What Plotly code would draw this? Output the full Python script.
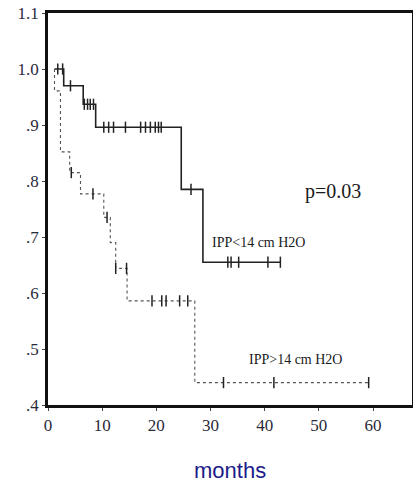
import plotly.graph_objects as go

# IPP < 14 cm H2O (solid)
low_times = [1.2, 2.9, 6.5, 8.8, 24.6, 28.6, 42.9]
low_surv = [1.0, 0.970, 0.937, 0.896, 0.785, 0.655, 0.655]
low_cens_t = [1.8, 2.7, 4.15, 6.7, 7.3, 7.8, 8.4, 10.3, 11.2, 12.1, 14.3, 17.1, 18.0,
              18.9, 19.8, 20.4, 20.9, 26.4, 33.2, 33.8, 35.2, 40.6, 42.9]
low_cens_s = [1.0, 1.0, 0.970, 0.937, 0.937, 0.937, 0.937, 0.896, 0.896, 0.896, 0.896,
              0.896, 0.896, 0.896, 0.896, 0.896, 0.896, 0.785, 0.655, 0.655, 0.655, 0.655, 0.655]

# IPP > 14 cm H2O (dotted)
high_times = [1.2, 1.2, 2.3, 4.0, 6.0, 10.3, 11.5, 12.5, 14.6, 27.1, 59.2]
high_surv = [1.0, 0.961, 0.852, 0.815, 0.777, 0.735, 0.690, 0.644, 0.586, 0.440, 0.440]
high_cens_t = [4.3, 8.3, 10.9, 12.5, 14.5, 19.2, 21.0, 21.8, 24.3, 25.8, 32.4, 41.7, 59.2]
high_cens_s = [0.815, 0.777, 0.735, 0.644, 0.644, 0.586, 0.586, 0.586, 0.586, 0.586,
               0.440, 0.440, 0.440]

x_ticks = [0, 10, 20, 30, 40, 50, 60]
y_ticks = [0.4, 0.5, 0.6, 0.7, 0.8, 0.9, 1.0, 1.1]
y_labels = [".4", ".5", ".6", ".7", ".8", ".9", "1.0", "1.1"]

fig = go.Figure()
fig.add_trace(go.Scatter(x=low_times, y=low_surv, mode="lines", line_shape="hv",
                         line=dict(color="#222222", width=1.6), showlegend=False))
fig.add_trace(go.Scatter(x=low_cens_t, y=low_cens_s, mode="markers",
                         marker=dict(symbol="line-ns-open", size=8, color="#222222",
                                     line=dict(color="#222222", width=1.5)),
                         showlegend=False))
fig.add_trace(go.Scatter(x=high_times, y=high_surv, mode="lines", line_shape="hv",
                         line=dict(color="#555555", width=1.1, dash="dot"), showlegend=False))
fig.add_trace(go.Scatter(x=high_cens_t, y=high_cens_s, mode="markers",
                         marker=dict(symbol="line-ns-open", size=8, color="#222222",
                                     line=dict(color="#222222", width=1.5)),
                         showlegend=False))

serif = "Liberation Serif"
fig.add_annotation(x=52.7, y=0.782, xref="x", yref="y", text="p=0.03", showarrow=False,
                   font=dict(family=serif, size=20, color="#1a1a1a"))
fig.add_annotation(x=38.9, y=0.691, xref="x", yref="y", text="IPP&lt;14 cm H2O", showarrow=False,
                   font=dict(family=serif, size=14, color="#1a1a1a"))
fig.add_annotation(x=45.7, y=0.482, xref="x", yref="y", text="IPP&gt;14 cm H2O", showarrow=False,
                   font=dict(family=serif, size=14, color="#1a1a1a"))
fig.add_annotation(x=0.5, y=-0.166, xref="paper", yref="paper", text="months", showarrow=False,
                   yanchor="middle", font=dict(family="Liberation Sans", size=22, color="#1c1c8a"))

fig.update_xaxes(range=[0, 67.2], tickvals=x_ticks, ticks="outside", ticklen=3, tickwidth=1,
                 showline=True, linewidth=2.6, linecolor="#111111", mirror=True,
                 showgrid=False, zeroline=False, automargin=False,
                 tickfont=dict(family=serif, size=17, color="#2a2a3a"))
fig.update_yaxes(range=[0.4, 1.1], tickvals=y_ticks, ticktext=y_labels, ticks="outside",
                 ticklen=3, tickwidth=1, showline=True, linewidth=2.6, linecolor="#111111",
                 mirror=True, showgrid=False, zeroline=False, automargin=False,
                 tickfont=dict(family=serif, size=17, color="#2a2a3a"))
fig.update_layout(width=413, height=486, margin=dict(l=48, r=1, t=13, b=81),
                  plot_bgcolor="white", paper_bgcolor="white")
fig.write_html("out.html", config={"displayModeBar": False},
               post_script="document.body.style.margin='0';document.body.style.overflow='hidden';")
